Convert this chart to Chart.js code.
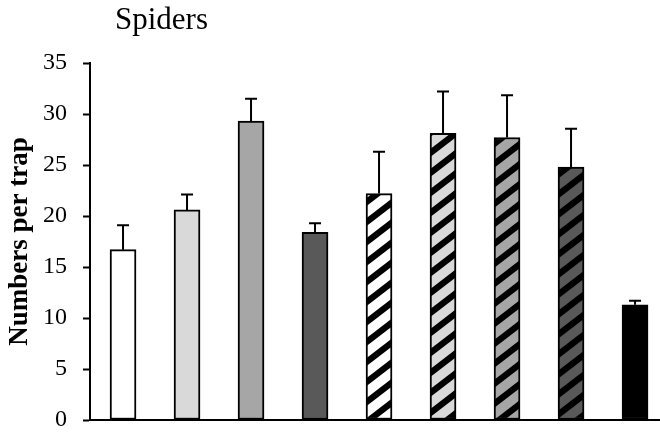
<!DOCTYPE html>
<html lang="en">
<head>
    <meta charset="UTF-8">
    <title>Spiders</title>
    <script src="https://cdn.jsdelivr.net/npm/chart.js"></script>
    <style>
        html, body { margin: 0; padding: 0; background: #fff; overflow: hidden; }
        .wrap { position: relative; width: 660px; height: 433px; }
        .title {
            position: absolute; left: 115px; top: 3px;
            font-family: "Liberation Serif", "Times New Roman", serif;
            font-size: 31px; line-height: 1; color: #000;
        }
        canvas { display: block; }
    </style>
</head>
<body>
    <div class="wrap">
        <div class="title">Spiders</div>
        <canvas id="barChart" width="660" height="433"></canvas>
    </div>

    <script>
        // data
        const categories = ['A', 'B', 'C', 'D', 'E', 'F', 'G', 'H', 'I'];
        const means = [16.7, 20.6, 29.3, 18.4, 22.2, 28.1, 27.7, 24.8, 11.3];
        const errUp = [2.4, 1.5, 2.2, 0.9, 4.1, 4.1, 4.15, 3.75, 0.4];
        const yTicks = [0, 5, 10, 15, 20, 25, 30, 35];

        // bar looks
        const baseColors = ['#ffffff', '#d9d9d9', '#a6a6a6', '#595959',
                            '#ffffff', '#d9d9d9', '#a6a6a6', '#595959', '#000000'];
        const hatched = [false, false, false, false, true, true, true, true, false];

        function stripes(bg) {
            const w = 26, h = 20, t = 8;
            const c = document.createElement('canvas');
            c.width = w; c.height = h;
            const g = c.getContext('2d');
            g.fillStyle = bg;
            g.fillRect(0, 0, w, h);
            g.fillStyle = '#000';
            [0, h].forEach(off => {
                g.beginPath();
                g.moveTo(0, off);
                g.lineTo(w, off - h);
                g.lineTo(w, off - h + t);
                g.lineTo(0, off + t);
                g.closePath();
                g.fill();
            });
            return g.createPattern(c, 'repeat');
        }

        const fills = baseColors.map((c, i) => hatched[i] ? stripes(c) : c);

        const errorBars = {
            id: 'errorBars',
            afterDatasetsDraw(chart) {
                const ctx = chart.ctx;
                const y = chart.scales.y;
                const meta = chart.getDatasetMeta(0);
                ctx.save();
                ctx.strokeStyle = '#000';
                ctx.lineWidth = 2;
                meta.data.forEach((bar, i) => {
                    const top = y.getPixelForValue(means[i] + errUp[i]);
                    const base = y.getPixelForValue(means[i]);
                    ctx.beginPath();
                    ctx.moveTo(bar.x, base);
                    ctx.lineTo(bar.x, top);
                    ctx.moveTo(bar.x - 6, top);
                    ctx.lineTo(bar.x + 6, top);
                    ctx.stroke();
                });
                ctx.restore();
            }
        };

        const serif = '"Liberation Serif", "Times New Roman", serif';

        new Chart(document.getElementById('barChart').getContext('2d'), {
            type: 'bar',
            data: {
                datasets: [{
                    label: 'Spiders',
                    data: means.map((v, i) => ({ x: i + 1, y: v })),
                    backgroundColor: fills,
                    borderColor: '#000',
                    borderWidth: 2,
                    borderSkipped: false,
                    barThickness: 26
                }]
            },
            options: {
                responsive: false,
                animation: false,
                layout: { padding: { top: 63, right: 0, bottom: 13, left: 0 } },
                plugins: {
                    legend: { display: false },
                    tooltip: {
                        callbacks: { title: items => categories[items[0].dataIndex] }
                    }
                },
                scales: {
                    x: {
                        type: 'linear',
                        offset: false,
                        min: 0.484,
                        max: 9.39,
                        ticks: { display: false, padding: 0 },
                        grid: { display: false, drawTicks: false, tickLength: 0 },
                        border: { color: '#000', width: 2 },
                        afterFit: s => { s.height = 0; }
                    },
                    y: {
                        min: 0,
                        max: 35,
                        afterBuildTicks: s => { s.ticks = yTicks.map(v => ({ value: v })); },
                        afterFit: s => { s.width = 90; s.paddingTop = 0; s.paddingBottom = 0; },
                        ticks: {
                            color: '#000',
                            padding: 16,
                            font: { family: serif, size: 24 }
                        },
                        grid: {
                            drawOnChartArea: false,
                            drawTicks: true,
                            tickLength: 7,
                            tickWidth: 2,
                            tickColor: '#000'
                        },
                        border: { color: '#000', width: 2 },
                        title: {
                            display: true,
                            text: 'Numbers per trap',
                            color: '#000',
                            padding: { top: 4, bottom: 8 },
                            font: { family: serif, size: 27, weight: 'bold' }
                        }
                    }
                }
            },
            plugins: [errorBars]
        });
    </script>
</body>
</html>
